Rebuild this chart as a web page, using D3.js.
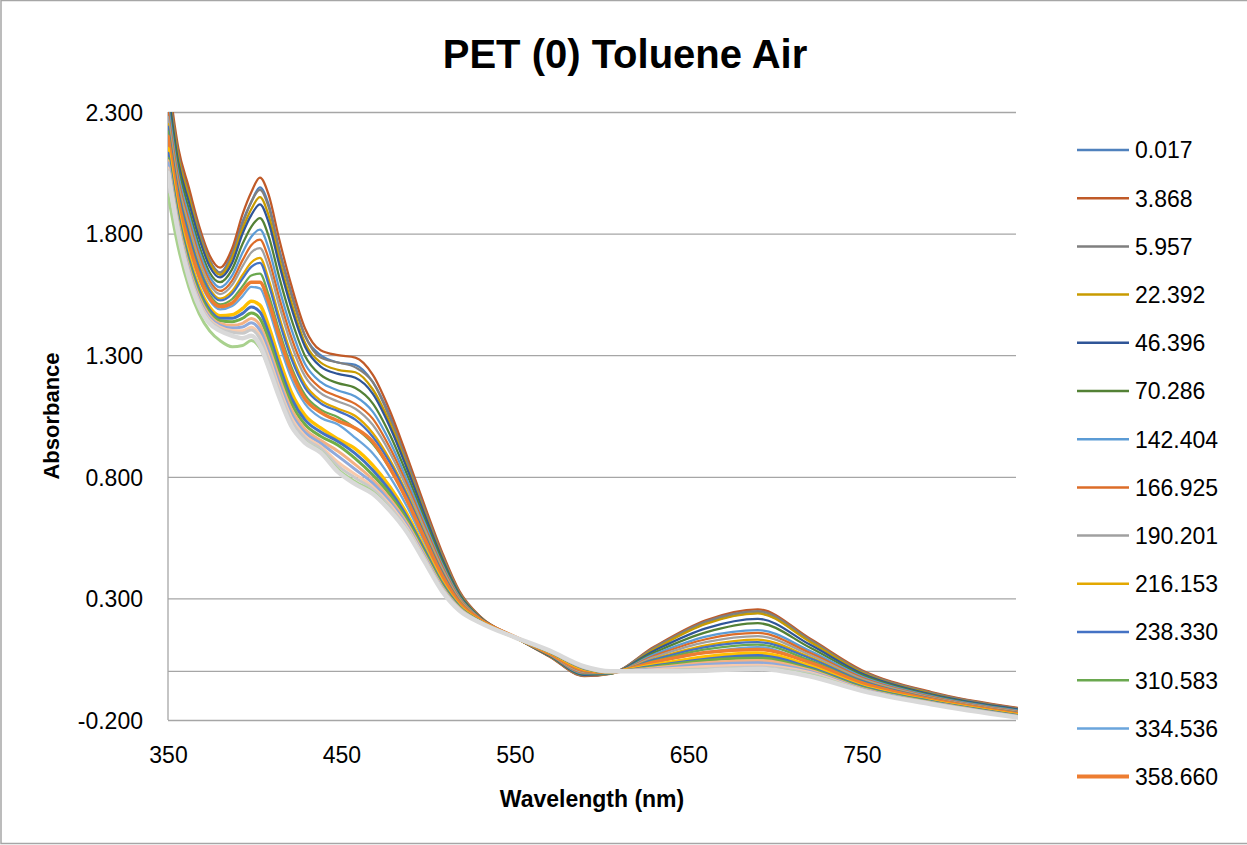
<!DOCTYPE html>
<html>
<head>
<meta charset="utf-8">
<script src="https://cdn.jsdelivr.net/npm/d3@7"></script>
<style>
  body { margin: 0; background: #fff; }
  text { font-family: "Liberation Sans", Arial, sans-serif; fill: #000; }
</style>
</head>
<body>
<div id="chart"></div>
<script>
// wavelength grid (nm) shared by every spectrum
const wavelengths = [350, 356, 362, 368, 374, 380, 387, 393, 398, 403, 408, 414, 421, 429, 438, 448, 458, 468, 478, 488, 498, 508, 518, 530, 550, 570, 590, 605, 630, 660, 690, 720, 750, 790, 840];

// legend labels (time)
const timeLabels = ["0.017", "3.868", "5.957", "22.392", "46.396", "70.286", "142.404", "166.925", "190.201", "216.153", "238.330", "310.583", "334.536", "358.660"];

// absorbance readings
const a0017 = [2.40, 2.13, 1.97, 1.81, 1.69, 1.64, 1.72, 1.85, 1.93, 1.99, 1.92, 1.74, 1.56, 1.38, 1.30, 1.27, 1.26, 1.19, 1.05, 0.86, 0.67, 0.48, 0.325, 0.224, 0.14, 0.062, -0.018, -0.009, 0.094, 0.198, 0.24, 0.126, 0.0, -0.088, -0.152];
const a3868 = [2.45, 2.15, 1.99, 1.83, 1.71, 1.66, 1.74, 1.88, 1.97, 2.03, 1.96, 1.78, 1.59, 1.41, 1.32, 1.30, 1.29, 1.22, 1.07, 0.88, 0.68, 0.49, 0.33, 0.225, 0.14, 0.06, -0.02, -0.01, 0.10, 0.21, 0.255, 0.135, 0.005, -0.085, -0.15];
const a5957 = [2.42, 2.125, 1.96, 1.81, 1.69, 1.64, 1.71, 1.84, 1.93, 1.98, 1.91, 1.73, 1.55, 1.38, 1.29, 1.27, 1.25, 1.19, 1.04, 0.86, 0.664, 0.479, 0.324, 0.223, 0.14, 0.062, -0.017, -0.009, 0.096, 0.205, 0.248, 0.13, 0.0, -0.088, -0.153];
const a22392 = [2.40, 2.11, 1.95, 1.79, 1.68, 1.63, 1.70, 1.82, 1.90, 1.95, 1.875, 1.70, 1.52, 1.35, 1.27, 1.24, 1.23, 1.16, 1.02, 0.84, 0.65, 0.47, 0.32, 0.222, 0.14, 0.063, -0.015, -0.009, 0.09, 0.195, 0.238, 0.122, -0.005, -0.092, -0.155];
const a46396 = [2.39, 2.09, 1.93, 1.78, 1.665, 1.62, 1.68, 1.80, 1.876, 1.92, 1.846, 1.676, 1.497, 1.335, 1.253, 1.223, 1.207, 1.142, 1.004, 0.83, 0.643, 0.464, 0.317, 0.221, 0.14, 0.064, -0.014, -0.008, 0.084, 0.177, 0.216, 0.11, -0.009, -0.095, -0.156];
const a70286 = [2.35, 2.07, 1.90, 1.75, 1.64, 1.60, 1.654, 1.758, 1.828, 1.864, 1.79, 1.624, 1.451, 1.297, 1.219, 1.185, 1.165, 1.102, 0.972, 0.806, 0.625, 0.452, 0.311, 0.219, 0.14, 0.066, -0.01, -0.008, 0.076, 0.16, 0.198, 0.098, -0.015, -0.099, -0.16];
const a142404 = [2.33, 2.04, 1.875, 1.728, 1.623, 1.579, 1.628, 1.722, 1.787, 1.816, 1.74, 1.578, 1.41, 1.264, 1.19, 1.155, 1.13, 1.068, 0.943, 0.784, 0.609, 0.44, 0.305, 0.217, 0.14, 0.068, -0.008, -0.007, 0.069, 0.143, 0.17, 0.085, -0.021, -0.102, -0.162];
const a166925 = [2.30, 2.02, 1.853, 1.708, 1.606, 1.564, 1.607, 1.691, 1.752, 1.775, 1.697, 1.539, 1.375, 1.236, 1.165, 1.13, 1.10, 1.039, 0.918, 0.765, 0.595, 0.431, 0.30, 0.216, 0.14, 0.069, -0.005, -0.006, 0.063, 0.132, 0.158, 0.076, -0.026, -0.105, -0.165];
const a190201 = [2.28, 2.00, 1.835, 1.691, 1.592, 1.551, 1.589, 1.666, 1.722, 1.74, 1.662, 1.507, 1.346, 1.213, 1.144, 1.11, 1.08, 1.014, 0.898, 0.75, 0.583, 0.423, 0.296, 0.215, 0.14, 0.07, -0.003, -0.006, 0.058, 0.12, 0.145, 0.068, -0.031, -0.108, -0.167];
const a216153 = [2.25, 1.98, 1.809, 1.668, 1.573, 1.533, 1.564, 1.63, 1.681, 1.70, 1.612, 1.461, 1.306, 1.18, 1.114, 1.08, 1.05, 0.98, 0.869, 0.728, 0.567, 0.412, 0.291, 0.213, 0.14, 0.072, 0.0, -0.005, 0.051, 0.107, 0.13, 0.059, -0.037, -0.111, -0.17];
const a238330 = [2.24, 1.97, 1.798, 1.658, 1.564, 1.525, 1.553, 1.615, 1.663, 1.68, 1.591, 1.442, 1.288, 1.166, 1.102, 1.07, 1.035, 0.965, 0.857, 0.719, 0.56, 0.407, 0.288, 0.212, 0.14, 0.073, 0.001, -0.005, 0.048, 0.1, 0.12, 0.054, -0.039, -0.112, -0.171];
const a310583 = [2.22, 1.947, 1.775, 1.639, 1.548, 1.509, 1.531, 1.584, 1.628, 1.635, 1.548, 1.403, 1.254, 1.137, 1.076, 1.045, 1.0, 0.936, 0.832, 0.70, 0.547, 0.397, 0.284, 0.21, 0.14, 0.075, 0.003, -0.004, 0.042, 0.09, 0.11, 0.045, -0.044, -0.115, -0.173];
const a334536 = [2.19, 1.92, 1.746, 1.612, 1.525, 1.488, 1.502, 1.543, 1.581, 1.575, 1.491, 1.351, 1.207, 1.10, 1.043, 1.015, 0.96, 0.897, 0.799, 0.675, 0.528, 0.384, 0.277, 0.209, 0.14, 0.077, 0.006, -0.003, 0.036, 0.078, 0.10, 0.033, -0.051, -0.118, -0.176];
const a358660 = [2.20, 1.93, 1.76, 1.625, 1.535, 1.50, 1.515, 1.565, 1.60, 1.60, 1.52, 1.38, 1.235, 1.12, 1.065, 1.03, 1.00, 0.945, 0.835, 0.70, 0.545, 0.395, 0.282, 0.212, 0.142, 0.074, 0.004, -0.004, 0.038, 0.078, 0.09, 0.037, -0.048, -0.116, -0.175];

// later scans, not listed in the legend
const later1 = [2.15, 1.884, 1.709, 1.579, 1.497, 1.462, 1.466, 1.492, 1.522, 1.506, 1.42, 1.286, 1.149, 1.053, 1.001, 0.955, 0.915, 0.848, 0.758, 0.644, 0.505, 0.368, 0.269, 0.206, 0.14, 0.079, 0.01, -0.002, 0.026, 0.06, 0.075, 0.022, -0.06, -0.122, -0.18];
const later2 = [2.13, 1.87, 1.694, 1.566, 1.486, 1.452, 1.452, 1.472, 1.498, 1.478, 1.392, 1.26, 1.126, 1.034, 0.984, 0.945, 0.895, 0.828, 0.742, 0.632, 0.496, 0.362, 0.266, 0.205, 0.14, 0.08, 0.012, -0.002, 0.022, 0.05, 0.065, 0.015, -0.063, -0.124, -0.182];
const later3 = [2.11, 1.856, 1.679, 1.553, 1.475, 1.442, 1.438, 1.452, 1.474, 1.45, 1.364, 1.234, 1.103, 1.015, 0.967, 0.93, 0.875, 0.808, 0.726, 0.62, 0.487, 0.356, 0.263, 0.204, 0.14, 0.081, 0.014, -0.002, 0.018, 0.045, 0.055, 0.01, -0.066, -0.126, -0.184];
const later4 = [2.10, 1.842, 1.664, 1.54, 1.464, 1.431, 1.423, 1.431, 1.451, 1.423, 1.335, 1.208, 1.08, 0.996, 0.95, 0.905, 0.85, 0.789, 0.709, 0.607, 0.478, 0.349, 0.26, 0.203, 0.14, 0.082, 0.015, -0.001, 0.014, 0.035, 0.045, 0.005, -0.07, -0.128, -0.185];
const later5 = [2.09, 1.831, 1.653, 1.53, 1.455, 1.423, 1.412, 1.416, 1.433, 1.402, 1.314, 1.188, 1.062, 0.982, 0.938, 0.885, 0.83, 0.774, 0.697, 0.598, 0.471, 0.344, 0.257, 0.202, 0.14, 0.083, 0.016, -0.001, 0.01, 0.028, 0.035, 0.0, -0.072, -0.13, -0.186];
const later6 = [2.07, 1.821, 1.642, 1.52, 1.447, 1.416, 1.402, 1.401, 1.415, 1.381, 1.293, 1.169, 1.045, 0.968, 0.925, 0.86, 0.81, 0.759, 0.685, 0.589, 0.464, 0.34, 0.255, 0.201, 0.14, 0.084, 0.018, -0.001, 0.007, 0.02, 0.025, -0.005, -0.075, -0.132, -0.188];
const later7 = [2.06, 1.814, 1.635, 1.513, 1.441, 1.41, 1.394, 1.39, 1.404, 1.368, 1.278, 1.156, 1.033, 0.959, 0.917, 0.845, 0.795, 0.75, 0.676, 0.582, 0.459, 0.336, 0.253, 0.201, 0.14, 0.084, 0.018, 0.0, 0.004, 0.01, 0.018, -0.01, -0.077, -0.133, -0.188];
const later8 = [1.96, 1.74, 1.58, 1.47, 1.40, 1.36, 1.335, 1.34, 1.36, 1.33, 1.25, 1.13, 1.01, 0.945, 0.905, 0.83, 0.78, 0.738, 0.665, 0.575, 0.455, 0.333, 0.252, 0.20, 0.14, 0.085, 0.019, 0.0, 0.002, 0.006, 0.012, -0.015, -0.078, -0.134, -0.189];
const later9 = [2.05, 1.80, 1.62, 1.50, 1.43, 1.40, 1.38, 1.37, 1.38, 1.34, 1.25, 1.13, 1.01, 0.94, 0.90, 0.82, 0.77, 0.73, 0.66, 0.57, 0.45, 0.33, 0.25, 0.20, 0.14, 0.085, 0.02, 0.0, 0.0, 0.003, 0.01, -0.02, -0.08, -0.135, -0.19];

const xTicks = [350, 450, 550, 650, 750];
const yTicks = [-0.2, 0.3, 0.8, 1.3, 1.8, 2.3];

const allSeries = [a0017, a3868, a5957, a22392, a46396, a70286, a142404, a166925, a190201, a216153, a238330, a310583, a334536, a358660,
  later1, later2, later3, later4, later5, later6, later7, later8, later9];
const colors = ["#4f81bd", "#c05a28", "#7f7f7f", "#c89b00", "#2f5597", "#538135", "#5b9bd5", "#dc6c28", "#a0a0a0", "#e3a800", "#4472c4", "#6aa84f", "#6aa5dc", "#ed7d31",
  "#ffc000", "#4472c4", "#70ad47", "#f4b183", "#8faadc", "#f8cbad", "#c9c9c9", "#a9d18e", "#d9d9d9"];
const widths = [2.25, 2.25, 2.25, 2.25, 2.25, 2.25, 2.25, 2.25, 2.25, 2.25, 2.25, 2.25, 2.25, 3.5,
  3.5, 3, 3, 3, 3, 3, 3, 3, 4.5];

const W = 1247, H = 845;
const plot = { left: 168, right: 1018, top: 112, bottom: 720 };

const svg = d3.select("#chart").append("svg")
  .attr("width", W).attr("height", H);

// outer chart border
svg.append("rect")
  .attr("x", 1).attr("y", 0.5).attr("width", W + 10).attr("height", 843)
  .attr("fill", "#fff").attr("stroke", "#a6a6a6").attr("stroke-width", 1.5);

const x = d3.scaleLinear().domain([350, 840]).range([plot.left, plot.right]);
const y = d3.scaleLinear().domain([-0.2, 2.3]).range([plot.bottom, plot.top]);

// excel style labels use a plain hyphen for negatives
const fmtY = d => d3.format(".3f")(d).replace("\u2212", "-");

// gridlines + y labels
const yAxis = svg.append("g")
  .attr("transform", "translate(" + plot.left + ",0)")
  .call(d3.axisLeft(y).tickValues(yTicks).tickFormat(fmtY)
    .tickSize(-(plot.right - plot.left - 2)).tickPadding(25));
yAxis.select(".domain").remove();
yAxis.selectAll("line").attr("stroke", "#a6a6a6").attr("stroke-width", 1.3);
yAxis.selectAll("text").attr("font-size", 23).attr("dy", "0.36em")
  .style("font-family", "'Liberation Sans', Arial, sans-serif");

// horizontal axis line at zero
svg.append("line")
  .attr("x1", plot.left).attr("x2", plot.right - 2)
  .attr("y1", y(0)).attr("y2", y(0))
  .attr("stroke", "#a6a6a6").attr("stroke-width", 1.3);

// vertical axis line
svg.append("line")
  .attr("x1", plot.left).attr("x2", plot.left)
  .attr("y1", plot.top).attr("y2", plot.bottom)
  .attr("stroke", "#a6a6a6").attr("stroke-width", 1.3);

// x labels
const xAxis = svg.append("g")
  .attr("transform", "translate(0," + plot.bottom + ")")
  .call(d3.axisBottom(x).tickValues(xTicks).tickFormat(d3.format("d")).tickSize(0).tickPadding(27));
xAxis.select(".domain").remove();
xAxis.selectAll("text").attr("font-size", 23)
  .style("font-family", "'Liberation Sans', Arial, sans-serif");

// spectra
svg.append("clipPath").attr("id", "clip")
  .append("rect")
  .attr("x", plot.left).attr("y", plot.top)
  .attr("width", plot.right - plot.left).attr("height", plot.bottom - plot.top);

const line = d3.line()
  .x((d, i) => x(wavelengths[i]))
  .y(d => y(d))
  .curve(d3.curveMonotoneX);

svg.append("g").attr("clip-path", "url(#clip)")
  .selectAll("path")
  .data(allSeries)
  .enter()
  .append("path")
  .attr("d", d => line(d))
  .attr("fill", "none")
  .attr("stroke", (d, i) => colors[i])
  .attr("stroke-width", (d, i) => widths[i])
  .attr("stroke-linejoin", "round")
  .attr("stroke-linecap", "round");

// title
svg.append("text")
  .attr("x", 625).attr("y", 68)
  .attr("text-anchor", "middle")
  .attr("font-size", 40).attr("font-weight", "bold")
  .text("PET (0) Toluene Air");

// axis titles
svg.append("text")
  .attr("x", 592).attr("y", 807)
  .attr("text-anchor", "middle")
  .attr("font-size", 23).attr("font-weight", "bold")
  .text("Wavelength (nm)");

svg.append("text")
  .attr("transform", "translate(59,416) rotate(-90)")
  .attr("text-anchor", "middle")
  .attr("font-size", 22).attr("font-weight", "bold")
  .text("Absorbance");

// legend (first 14 series only)
const legend = svg.append("g")
  .selectAll("g")
  .data(timeLabels)
  .enter()
  .append("g")
  .attr("transform", (d, i) => "translate(1077," + (150 + i * 48.2) + ")");

legend.append("line")
  .attr("x1", 0).attr("x2", 52)
  .attr("stroke", (d, i) => colors[i])
  .attr("stroke-width", (d, i) => i === 13 ? 4 : 2.5);

legend.append("text")
  .attr("x", 58).attr("y", 8.3)
  .attr("font-size", 23)
  .text(d => d);
</script>
</body>
</html>
